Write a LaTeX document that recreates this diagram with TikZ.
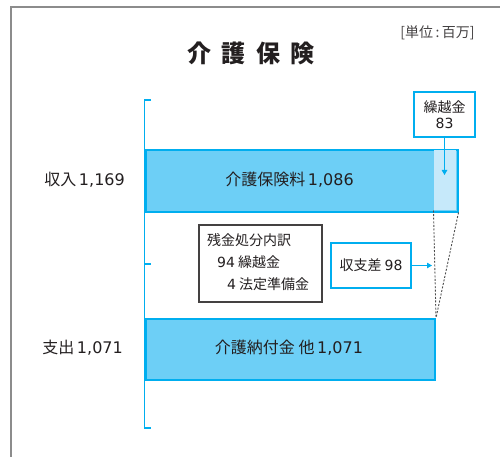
\documentclass[tikz,border=0pt]{standalone}
\usepackage{fontspec}
\setmainfont{Noto Sans CJK JP}
\newfontfamily\numf{DejaVu Sans}
\usetikzlibrary{arrows.meta}
\definecolor{cyanline}{HTML}{00AEEF}
\definecolor{barfill}{HTML}{6DCFF6}
\definecolor{lightfill}{HTML}{C6E9FA}
\definecolor{framegray}{HTML}{8C8C8C}
\definecolor{txt}{HTML}{231F20}
\newcommand{\nm}[1]{{\numf #1}}
\tikzset{
  bar/.style={draw=cyanline, line width=2pt, fill=barfill},
  bluebox/.style={draw=cyanline, line width=1.4pt, fill=white},
  blackbox/.style={draw=txt!85, line width=1.3pt, fill=white},
  lbl/.style={font=\fontsize{16}{19}\selectfont, text=txt, inner sep=0pt},
  boxtxt/.style={font=\fontsize{14}{17}\selectfont, text=txt, inner sep=0pt},
  arr/.style={draw=cyanline, line width=1pt, -{Triangle[length=5pt,width=5.5pt]}},
  guide/.style={draw=black!70, line width=0.9pt, dash pattern=on 2pt off 1.6pt},
}
\begin{document}
\begin{tikzpicture}[x=1pt,y=-1pt]
\useasboundingbox (0,0) rectangle (500,457);
% frame
\draw[framegray, line width=1.4pt] (11,457) -- (11,7) -- (500,7);
% unit
\node[font=\fontsize{14}{16}\selectfont, text=txt!85, inner sep=0pt] (unit) at (437.5,33) {[単位\,:\,百万]};
% title
\node[font=\fontsize{24}{28}\selectfont\bfseries, text=txt, inner sep=0pt] (title) at (251,53) {介\hspace{0.42em}護\hspace{0.42em}保\hspace{0.42em}険};
% axis
\draw[cyanline, line width=1.8pt] (151,100) -- (144.5,100) -- (144.5,428) -- (151,428);
\draw[cyanline, line width=1.8pt] (144.5,264) -- (151,264);
% income bar
\node[bar, minimum width=312pt, minimum height=61pt, anchor=north west, inner sep=0pt] (inc) at (144.5,149.5) {};
\fill[lightfill] (433.5,150.5) rectangle (455.5,209.5);
\coordinate (lt) at (433.5,210.5);
\node[lbl] (inclbl) at (289.5,180) {介護保険料\,\nm{1,086}};
\node[lbl, anchor=east] (inctot) at (125,180) {収入\,\nm{1,169}};
% carryover box
\node[bluebox, minimum width=61pt, minimum height=45pt, inner sep=0pt] (carry) at (444.5,114.5) {};
\node[boxtxt, align=center] (carrytxt) at (444.5,114.5) {繰越金\\[-1pt]\nm{83}};
\draw[arr] (carry.south) -- (444.5,175);
% expense bar
\node[bar, minimum width=289.5pt, minimum height=61pt, anchor=north west, inner sep=0pt] (exp) at (144.5,318) {};
\node[lbl] (explbl) at (289,348) {介護納付金 他\,\nm{1,071}};
\node[lbl, anchor=east] (exptot) at (123,348) {支出\,\nm{1,071}};
% guides
\draw[guide] (lt) -- (exp.north east);
\draw[guide] (inc.south east) -- (exp.north east);
% residual box
\node[blackbox, minimum width=123pt, minimum height=77pt, inner sep=0pt] (resid) at (260.5,263.5) {};
\node[boxtxt, anchor=west] (r1) at (207,240.5) {残金処分内訳};
\node[boxtxt, anchor=west] (r2) at (217,262) {\nm{94} 繰越金};
\node[boxtxt, anchor=west] (r3) at (227,284.5) {\nm{4} 法定準備金};
% balance box
\node[bluebox, minimum width=80pt, minimum height=45pt, inner sep=0pt] (bal) at (371,265.5) {};
\node[boxtxt] (baltxt) at (371,265.5) {収支差 \nm{98}};
\coordinate (balend) at (432,265.5);
\draw[arr] (bal.east) -- (balend);
\end{tikzpicture}
\end{document}
